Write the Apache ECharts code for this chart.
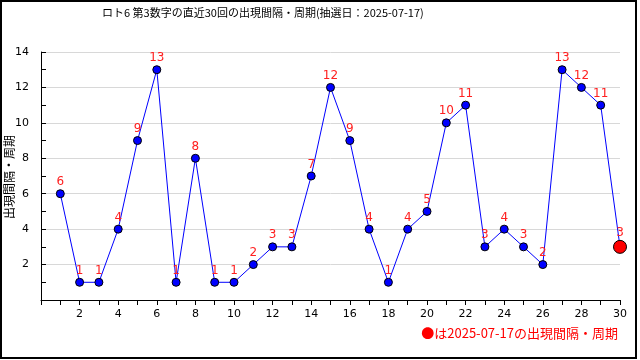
<!DOCTYPE html>
<html><head><meta charset="utf-8">
<script src="https://cdn.jsdelivr.net/npm/echarts@6/dist/echarts.min.js"></script>
<style>html,body{margin:0;padding:0;background:#fff}#c{width:640px;height:360px}</style>
</head><body><div id="c"></div>
<script>
const titleText = 'ロト6 第3数字の直近30回の出現間隔・周期(抽選日：2025-07-17)';
const yName = '出現間隔・周期';
const noteText = '●は2025-07-17の出現間隔・周期';
const draws = [1,2,3,4,5,6,7,8,9,10,11,12,13,14,15,16,17,18,19,20,21,22,23,24,25,26,27,28,29,30];
const intervals = [6,1,1,4,9,13,1,8,1,1,2,3,3,7,12,9,4,1,4,5,10,11,3,4,3,2,13,12,11,3];

const font = '"DejaVu Sans","Noto Sans CJK JP",sans-serif';
const cjk = '"Noto Sans CJK JP","DejaVu Sans",sans-serif';
const last = draws.length - 1;
const data = draws.map((d, i) => {
  const p = { value: [d, intervals[i]] };
  if (i === last) {
    p.symbolSize = 13;
    p.itemStyle = { color: '#ff0000', borderColor: '#000', borderWidth: 1 };
  }
  return p;
});
const evenOnly = v => (v === 0 || v % 2 !== 0) ? '' : String(v);

const chart = echarts.init(document.getElementById('c'), null, { renderer: 'canvas' });
chart.setOption({
  animation: false,
  backgroundColor: '#fff',
  title: {
    text: titleText, left: 97, top: 2,
    textStyle: { fontSize: 11, fontWeight: 'normal', color: '#000', fontFamily: cjk }
  },
  grid: { left: 41, right: 20, top: 52, bottom: 60, containLabel: false, outerBoundsMode: 'none' },
  xAxis: {
    type: 'value', min: 0, max: 30, interval: 1,
    axisLine: { show: true, lineStyle: { color: '#000', width: 1 } },
    axisTick: { show: true, inside: false, length: 5, lineStyle: { color: '#000' } },
    axisLabel: { color: '#000', fontSize: 11, fontFamily: font, margin: 9, formatter: evenOnly,
      showMinLabel: true, showMaxLabel: true, hideOverlap: false },
    splitLine: { show: false }
  },
  yAxis: [{
    type: 'value', min: 0, max: 14, interval: 1, position: 'left',
    axisLine: { show: true, lineStyle: { color: '#000', width: 1 } },
    axisTick: { show: true, inside: true, length: 5, lineStyle: { color: '#000' } },
    axisLabel: { color: '#000', fontSize: 11, fontFamily: font, margin: 12, formatter: evenOnly,
      hideOverlap: false },
    splitLine: { show: false }
  }, {
    type: 'value', min: 0, max: 14, interval: 2, position: 'left',
    axisLine: { show: false }, axisTick: { show: false }, axisLabel: { show: false },
    splitLine: { show: true, lineStyle: { color: '#d8d8d8', width: 1 } }
  }],
  series: [{
    type: 'line', data: data, yAxisIndex: 0,
    symbol: 'circle', symbolSize: 8,
    lineStyle: { color: '#0000ff', width: 1 },
    itemStyle: { color: '#0000ff', borderColor: '#000', borderWidth: 1 },
    label: { show: true, position: 'top', distance: 1, color: '#ff2020', fontSize: 12,
      fontFamily: font, formatter: p => String(p.value[1]) },
    z: 3
  }],
  graphic: [
    { type: 'rect', shape: { x: 1, y: 1, width: 635, height: 357 },
      style: { fill: null, stroke: '#000', lineWidth: 2 }, silent: true },
    { type: 'text', x: 9, y: 177, rotation: Math.PI / 2,
      style: { text: yName, fill: '#000', font: '12px ' + cjk, align: 'center', verticalAlign: 'middle' } },
    { type: 'text', right: 22, top: 327,
      style: { text: noteText, fill: '#ff0000', font: '13px ' + cjk } }
  ]
});
</script></body></html>
